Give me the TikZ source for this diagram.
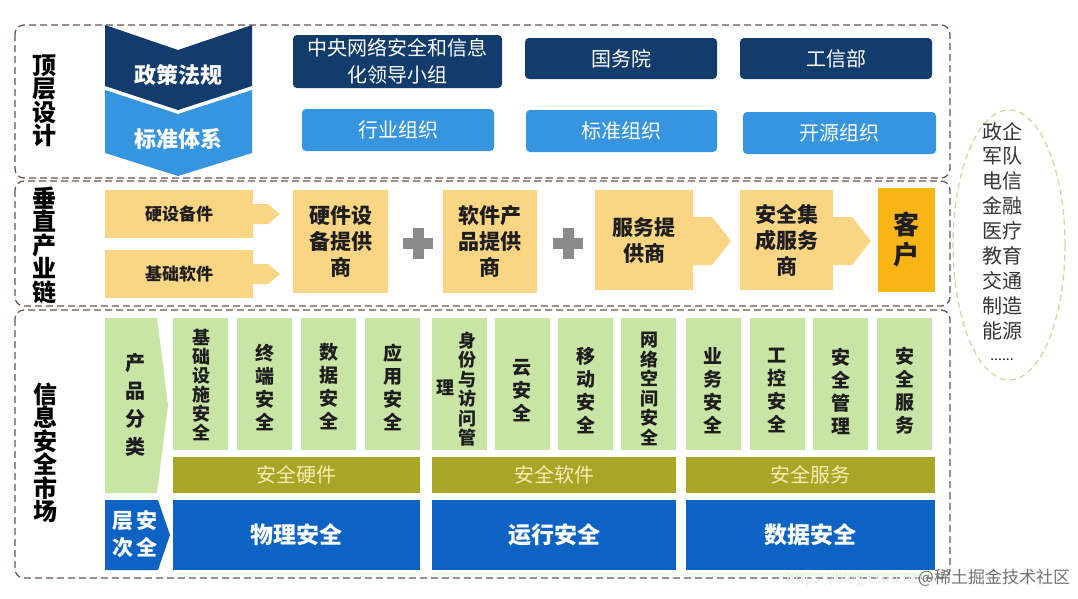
\documentclass[tikz,border=0pt]{standalone}
\usepackage{fontspec}
\setmainfont{Noto Sans CJK SC}
\usetikzlibrary{shapes.geometric}
\definecolor{navy}{HTML}{113C6C}
\definecolor{lblue}{HTML}{3795E0}
\definecolor{ylw}{HTML}{FAD584}
\definecolor{orng}{HTML}{F9B515}
\definecolor{plusc}{HTML}{8A8A8A}
\definecolor{lgreen}{HTML}{C9E5A6}
\definecolor{olive}{HTML}{A9A526}
\definecolor{paleyl}{HTML}{F4EEB4}
\definecolor{dblue}{HTML}{0D63C4}
\definecolor{framec}{HTML}{6E5252}
\definecolor{ellc}{HTML}{D6D3A4}
\definecolor{txtc}{HTML}{1E1E1E}
\newcommand\myfs[2]{\fontsize{#1pt}{#2pt}\selectfont}
\begin{document}
\begin{tikzpicture}[x=1pt,y=-1pt,
  frame/.style={draw=framec, line width=1.3pt, dash pattern=on 7pt off 4pt, rounded corners=9pt},
  lbl/.style={font=\myfs{24}{23.5}\bfseries, text=black, align=center, inner sep=0pt},
  chevtxt/.style={font=\myfs{22}{24}\bfseries, text=white, inner sep=0pt},
  navybox/.style={fill=navy, rounded corners=4pt, text=white, font=\myfs{20}{27}, inner sep=0pt, align=center},
  lbox/.style={fill=lblue, rounded corners=4pt, text=white, font=\myfs{20}{24}, inner sep=0pt, align=center},
  ybox/.style={fill=ylw, text=txtc, inner sep=0pt, align=center, font=\myfs{21}{26}\bfseries},
  ysmall/.style={fill=ylw, text=txtc, inner sep=0pt, align=center, font=\myfs{17}{20}\bfseries},
  gcol/.style={fill=lgreen, minimum width=55pt, minimum height=132pt, inner sep=0pt},
  gtxt/.style={text=txtc, align=center, inner sep=0pt},
  obar/.style={fill=olive, text=paleyl, font=\myfs{20}{24}, minimum height=36pt, inner sep=0pt},
  bbar/.style={fill=dblue, text=white, font=\myfs{23}{26}\bfseries, minimum height=70pt, inner sep=0pt}
]
\useasboundingbox (0,0) rectangle (1078,598);
\fill[white] (0,0) rectangle (1078,598);

% frames
\draw[frame] (15,25) rectangle (950,178);
\draw[frame] (15,181) rectangle (950,306);
\draw[frame] (15,310) rectangle (950,578);

% left labels
\node[lbl] (l1) at (44,101) {顶\\层\\设\\计};
\node[lbl] (l2) at (44,245) {垂\\直\\产\\业\\链};
\node[lbl] (l3) at (45,453) {信\\息\\安\\全\\市\\场};

% chevrons
\fill[navy] (105,25) -- (178,50) -- (252,25) -- (252,86) -- (178,110) -- (105,86) -- cycle;
\fill[lblue] (105,90) -- (178,114) -- (252,90) -- (252,153) -- (178,176) -- (105,153) -- cycle;
\node[chevtxt] (zc) at (178,75) {政策法规};
\node[chevtxt] (bz) at (178,139) {标准体系};

% top boxes
\node[navybox, minimum width=209pt, minimum height=53pt] (zy) at (397.5,61.5) {中央网络安全和信息\\化领导小组};
\node[navybox, minimum width=192pt, minimum height=41pt] (gwy) at (621,58.5) {国务院};
\node[navybox, minimum width=192pt, minimum height=41pt] (gxb) at (836,58.5) {工信部};
\node[lbox, minimum width=192pt, minimum height=42pt] (hy) at (398,130) {行业组织};
\node[lbox, minimum width=191pt, minimum height=42pt] (bzz) at (621.5,131) {标准组织};
\node[lbox, minimum width=193pt, minimum height=42pt] (ky) at (839.5,133) {开源组织};

% middle chain
\node[ysmall, minimum width=148pt, minimum height=48pt] (ysb) at (179,214) {硬设备件};
\node[ysmall, minimum width=148pt, minimum height=48pt] (jcr) at (179,274) {基础软件};
\fill[ylw] (253,204) -- (268,204) -- (280,214) -- (268,224) -- (253,224) -- cycle;
\fill[ylw] (253,264) -- (268,264) -- (280,274) -- (268,284) -- (253,284) -- cycle;
\node[ybox, minimum width=95pt, minimum height=103pt] (yjs) at (340.5,241.5) {硬件设\\备提供\\商};
\node[ybox, minimum width=94pt, minimum height=103pt] (rjs) at (490,241.5) {软件产\\品提供\\商};
\node[ybox, minimum width=98pt, minimum height=100pt] (fws) at (644,240) {服务提\\供商};
\node[ybox, minimum width=93pt, minimum height=100pt] (jcs) at (786.5,240) {安全集\\成服务\\商};
\node[fill=orng, text=txtc, inner sep=0pt, align=center, font=\myfs{26}{30}\bfseries, minimum width=57pt, minimum height=104pt] (kh) at (906.5,240) {客\\户};
\fill[ylw] (693,217) -- (712,217) -- (731,241) -- (712,265) -- (693,265) -- cycle;
\fill[ylw] (833,217) -- (852,217) -- (871,241) -- (852,265) -- (833,265) -- cycle;
% plus signs
\fill[plusc] (403,238) rectangle (433,249);
\fill[plusc] (412.5,228) rectangle (423.5,259);
\fill[plusc] (553,238) rectangle (583,249);
\fill[plusc] (562.5,228) rectangle (573.5,259);

% ellipse
\draw[ellc, line width=1.3pt, dash pattern=on 6pt off 4pt] (1009,245) ellipse [x radius=56pt, y radius=135pt];
\node[text=txtc!90, font=\myfs{20}{24.9}, align=center, inner sep=0pt] (hyl) at (1002,231) {政企\\军队\\电信\\金融\\医疗\\教育\\交通\\制造\\能源};
\node[text=txtc, font=\myfs{14}{14}, inner sep=0pt] (dots) at (1002,360) {......};

% bottom: arrows
\fill[lgreen] (105,318) -- (157,318) -- (168,405) -- (157,493) -- (105,493) -- cycle;
\node[font=\myfs{20}{28}\bfseries, text=txtc, align=center, inner sep=0pt] (cp) at (135,405) {产\\品\\分\\类};
\fill[dblue] (105,500) -- (158,500) -- (170,535) -- (158,570) -- (105,570) -- cycle;
\node[font=\myfs{21}{27}\bfseries, text=white, align=center, inner sep=0pt] (cc) at (135,534) {层\,安\\次\,全};

% green columns
\node[gcol] (c1) at (200.5,384) {};
\node[gcol] (c2) at (264.5,384) {};
\node[gcol] (c3) at (328.5,384) {};
\node[gcol] (c4) at (392.5,384) {};
\node[gcol] (c5) at (459.5,384) {};
\node[gcol] (c6) at (522.5,384) {};
\node[gcol] (c7) at (585.5,384) {};
\node[gcol] (c8) at (648.5,384) {};
\node[gcol] (c9) at (713.5,384) {};
\node[gcol] (c10) at (777.5,384) {};
\node[gcol] (c11) at (840.5,384) {};
\node[gcol] (c12) at (904.5,384) {};

\node[gtxt, font=\myfs{18}{19}\bfseries] (t1) at (201,385) {基\\础\\设\\施\\安\\全};
\node[gtxt, font=\myfs{19}{23}\bfseries] (t2) at (265,387) {终\\端\\安\\全};
\node[gtxt, font=\myfs{19}{23}\bfseries] (t3) at (329,387) {数\\据\\安\\全};
\node[gtxt, font=\myfs{19}{23}\bfseries] (t4) at (393,387) {应\\用\\安\\全};
\node[gtxt, font=\myfs{18}{19.5}\bfseries] (t5) at (467,389) {身\\份\\与\\访\\问\\管};
\node[gtxt, font=\myfs{18}{19.5}\bfseries] (t5b) at (445,388) {理};
\node[gtxt, font=\myfs{19}{23}\bfseries] (t6) at (522,391) {云\\安\\全};
\node[gtxt, font=\myfs{19}{23}\bfseries] (t7) at (586,391) {移\\动\\安\\全};
\node[gtxt, font=\myfs{18}{19.5}\bfseries] (t8) at (649,389) {网\\络\\空\\间\\安\\全};
\node[gtxt, font=\myfs{19}{23}\bfseries] (t9) at (713,391) {业\\务\\安\\全};
\node[gtxt, font=\myfs{19}{23}\bfseries] (t10) at (777,391) {工\\控\\安\\全};
\node[gtxt, font=\myfs{19}{23}\bfseries] (t11) at (841,391) {安\\全\\管\\理};
\node[gtxt, font=\myfs{19}{23}\bfseries] (t12) at (905,391) {安\\全\\服\\务};

% olive bars
\node[obar, minimum width=247pt] (aq1) at (296.5,475) {安全硬件};
\node[obar, minimum width=244pt] (aq2) at (554,475) {安全软件};
\node[obar, minimum width=249pt] (aq3) at (810.5,475) {安全服务};

% blue bars
\node[bbar, minimum width=247pt] (b1) at (296.5,535) {物理安全};
\node[bbar, minimum width=244pt] (b2) at (554,535) {运行安全};
\node[bbar, minimum width=249pt] (b3) at (810.5,535) {数据安全};

% watermark
\node[text=black!8, font=\myfs{14}{14}, inner sep=0pt] (url) at (855,580) {https://blog.csdn.net};
\node[text=black!55, font=\myfs{17}{17}, inner sep=0pt] (wm) at (994,578) {@稀土掘金技术社区};
\end{tikzpicture}
\end{document}
